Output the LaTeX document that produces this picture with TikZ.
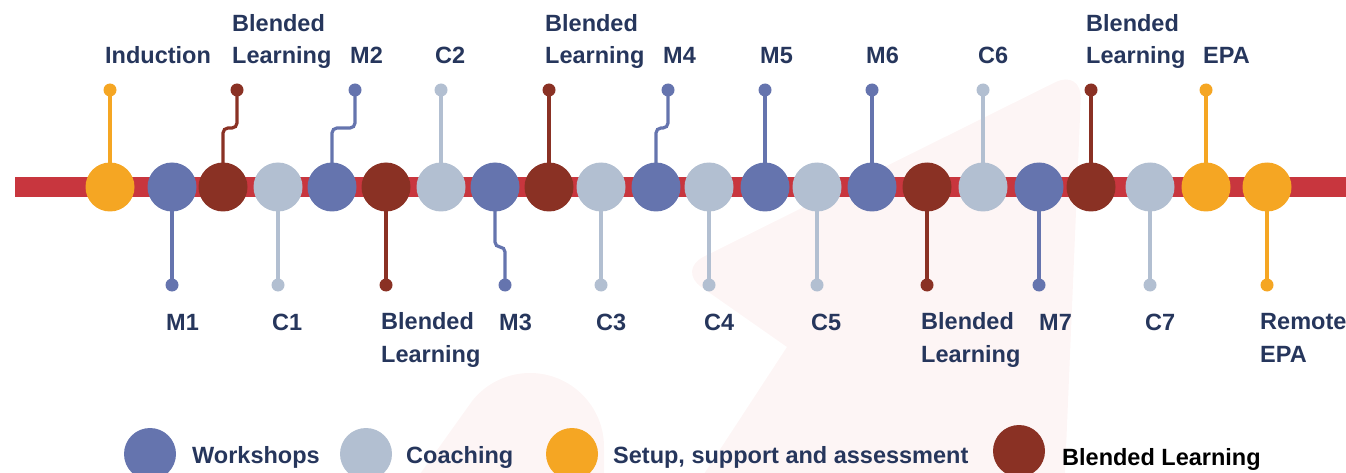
\documentclass[tikz,border=0pt]{standalone}
\usepackage{fontspec}
\setmainfont{Liberation Sans}
\pgfdeclarelayer{bg}
\pgfdeclarelayer{mid}
\pgfsetlayers{bg,mid,main}

\definecolor{cBlue}{RGB}{101,116,174}
\definecolor{cLight}{RGB}{178,191,209}
\definecolor{cBrown}{RGB}{138,49,36}
\definecolor{cOrange}{RGB}{245,166,35}
\definecolor{cBar}{RGB}{200,54,62}
\definecolor{cNavy}{RGB}{38,54,92}
\definecolor{cWash}{RGB}{253,245,245}

\tikzset{
  stop/.style={circle, inner sep=0pt, minimum size=49pt, draw=none},
  key/.style={circle, inner sep=0pt, minimum size=52pt, draw=none},
  pin/.style={circle, inner sep=0pt, minimum size=13pt, draw=none},
  stem/.style={line width=3.2pt, rounded corners=5pt},
  lbl/.style={anchor=base west, inner sep=0pt, align=left, text=cNavy,
    font=\fontsize{23.5}{32.5}\selectfont\bfseries},
  keytext/.style={anchor=base west, inner sep=0pt, text=cNavy,
    font=\fontsize{23.5}{28}\selectfont\bfseries},
}

\begin{document}
\begin{tikzpicture}[x=1pt,y=-1pt]
\useasboundingbox (0,0) rectangle (1346,473);

% faint background shapes
\begin{pgfonlayer}{bg}
  \fill[cWash] (687,500) -- (787,347) [rounded corners=30pt] -- (677,270) -- (1082,69) -- (1063,520) -- (687,520) -- cycle;
  \fill[cWash] (604,480) -- (604,447) arc[start angle=0, end angle=-140.5, x radius=74, y radius=74] -- (380,530) -- (604,530) -- cycle;
  % timeline bar
  \fill[cBar] (15,177) rectangle (1346,197);
\end{pgfonlayer}

% milestones on the bar
\node[stop, fill=cOrange] (ind) at (110,187) {};
\node[stop, fill=cBlue]   (m1)  at (172,187) {};
\node[stop, fill=cBrown]  (bl1) at (223,187) {};
\node[stop, fill=cLight]  (c1)  at (278,187) {};
\node[stop, fill=cBlue]   (m2)  at (332,187) {};
\node[stop, fill=cBrown]  (bl2) at (386,187) {};
\node[stop, fill=cLight]  (c2)  at (441,187) {};
\node[stop, fill=cBlue]   (m3)  at (495,187) {};
\node[stop, fill=cBrown]  (bl3) at (549,187) {};
\node[stop, fill=cLight]  (c3)  at (601,187) {};
\node[stop, fill=cBlue]   (m4)  at (656,187) {};
\node[stop, fill=cLight]  (c4)  at (709,187) {};
\node[stop, fill=cBlue]   (m5)  at (765,187) {};
\node[stop, fill=cLight]  (c5)  at (817,187) {};
\node[stop, fill=cBlue]   (m6)  at (872,187) {};
\node[stop, fill=cBrown]  (bl4) at (927,187) {};
\node[stop, fill=cLight]  (c6)  at (983,187) {};
\node[stop, fill=cBlue]   (m7)  at (1039,187) {};
\node[stop, fill=cBrown]  (bl5) at (1091,187) {};
\node[stop, fill=cLight]  (c7)  at (1150,187) {};
\node[stop, fill=cOrange] (epa) at (1206,187) {};
\node[stop, fill=cOrange] (repa) at (1267,187) {};

% end dots of the stems
\node[pin, fill=cOrange] (indp) at (110,90) {};
\node[pin, fill=cBlue]   (m1p)  at (172,285) {};
\node[pin, fill=cBrown]  (bl1p) at (237,90) {};
\node[pin, fill=cLight]  (c1p)  at (278,285) {};
\node[pin, fill=cBlue]   (m2p)  at (355,90) {};
\node[pin, fill=cBrown]  (bl2p) at (386,285) {};
\node[pin, fill=cLight]  (c2p)  at (441,90) {};
\node[pin, fill=cBlue]   (m3p)  at (505,285) {};
\node[pin, fill=cBrown]  (bl3p) at (549,90) {};
\node[pin, fill=cLight]  (c3p)  at (601,285) {};
\node[pin, fill=cBlue]   (m4p)  at (668,90) {};
\node[pin, fill=cLight]  (c4p)  at (709,285) {};
\node[pin, fill=cBlue]   (m5p)  at (765,90) {};
\node[pin, fill=cLight]  (c5p)  at (817,285) {};
\node[pin, fill=cBlue]   (m6p)  at (872,90) {};
\node[pin, fill=cBrown]  (bl4p) at (927,285) {};
\node[pin, fill=cLight]  (c6p)  at (983,90) {};
\node[pin, fill=cBlue]   (m7p)  at (1039,285) {};
\node[pin, fill=cBrown]  (bl5p) at (1091,90) {};
\node[pin, fill=cLight]  (c7p)  at (1150,285) {};
\node[pin, fill=cOrange] (epap) at (1206,90) {};
\node[pin, fill=cOrange] (repap) at (1267,285) {};

% stems
\begin{pgfonlayer}{mid}
  \draw[stem, cOrange] (ind.center) -- (indp.center);
  \draw[stem, cBlue]   (m1.center) -- (m1p.center);
  \draw[stem, cBrown]  (bl1.center) -- (bl1.center |- 0,128) -- (bl1p.center |- 0,128) -- (bl1p.center);
  \draw[stem, cLight]  (c1.center) -- (c1p.center);
  \draw[stem, cBlue]   (m2.center) -- (m2.center |- 0,128) -- (m2p.center |- 0,128) -- (m2p.center);
  \draw[stem, cBrown]  (bl2.center) -- (bl2p.center);
  \draw[stem, cLight]  (c2.center) -- (c2p.center);
  \draw[stem, cBlue]   (m3.center) -- (m3.center |- 0,247) -- (m3p.center |- 0,247) -- (m3p.center);
  \draw[stem, cBrown]  (bl3.center) -- (bl3p.center);
  \draw[stem, cLight]  (c3.center) -- (c3p.center);
  \draw[stem, cBlue]   (m4.center) -- (m4.center |- 0,128) -- (m4p.center |- 0,128) -- (m4p.center);
  \draw[stem, cLight]  (c4.center) -- (c4p.center);
  \draw[stem, cBlue]   (m5.center) -- (m5p.center);
  \draw[stem, cLight]  (c5.center) -- (c5p.center);
  \draw[stem, cBlue]   (m6.center) -- (m6p.center);
  \draw[stem, cBrown]  (bl4.center) -- (bl4p.center);
  \draw[stem, cLight]  (c6.center) -- (c6p.center);
  \draw[stem, cBlue]   (m7.center) -- (m7p.center);
  \draw[stem, cBrown]  (bl5.center) -- (bl5p.center);
  \draw[stem, cLight]  (c7.center) -- (c7p.center);
  \draw[stem, cOrange] (epa.center) -- (epap.center);
  \draw[stem, cOrange] (repa.center) -- (repap.center);
\end{pgfonlayer}

% labels above the bar (base anchor sits on the last line)
\node[lbl] (tInd) at (105,64) {Induction};
\node[lbl] (tBl1) at (232,64) {Blended\\Learning};
\node[lbl] (tM2)  at (350,64) {M2};
\node[lbl] (tC2)  at (435,64) {C2};
\node[lbl] (tBl3) at (545,64) {Blended\\Learning};
\node[lbl] (tM4)  at (663,64) {M4};
\node[lbl] (tM5)  at (760,64) {M5};
\node[lbl] (tM6)  at (866,64) {M6};
\node[lbl] (tC6)  at (978,64) {C6};
\node[lbl] (tBl5) at (1086,64) {Blended\\Learning};
\node[lbl] (tEpa) at (1203,64) {EPA};

% labels below the bar
\node[lbl] (tM1)  at (166,330) {M1};
\node[lbl] (tC1)  at (272,330) {C1};
\node[lbl] (tBl2) at (381,362) {Blended\\Learning};
\node[lbl] (tM3)  at (499,330) {M3};
\node[lbl] (tC3)  at (596,330) {C3};
\node[lbl] (tC4)  at (704,330) {C4};
\node[lbl] (tC5)  at (811,330) {C5};
\node[lbl] (tBl4) at (921,362) {Blended\\Learning};
\node[lbl] (tM7)  at (1039,330) {M7};
\node[lbl] (tC7)  at (1145,330) {C7};
\node[lbl] (tRepa) at (1260,362) {Remote\\EPA};

% legend
\node[key, fill=cBlue]   (kW) at (150,454) {};
\node[keytext] (kWt) at (192,463) {Workshops};
\node[key, fill=cLight]  (kC) at (366,454) {};
\node[keytext] (kCt) at (406,463) {Coaching};
\node[key, fill=cOrange] (kS) at (572,454) {};
\node[keytext] (kSt) at (613,463) {Setup, support and assessment};
\node[key, fill=cBrown]  (kB) at (1019,451) {};
\node[keytext, text=black] (kBt) at (1062,465) {Blended Learning};
\end{tikzpicture}
\end{document}
